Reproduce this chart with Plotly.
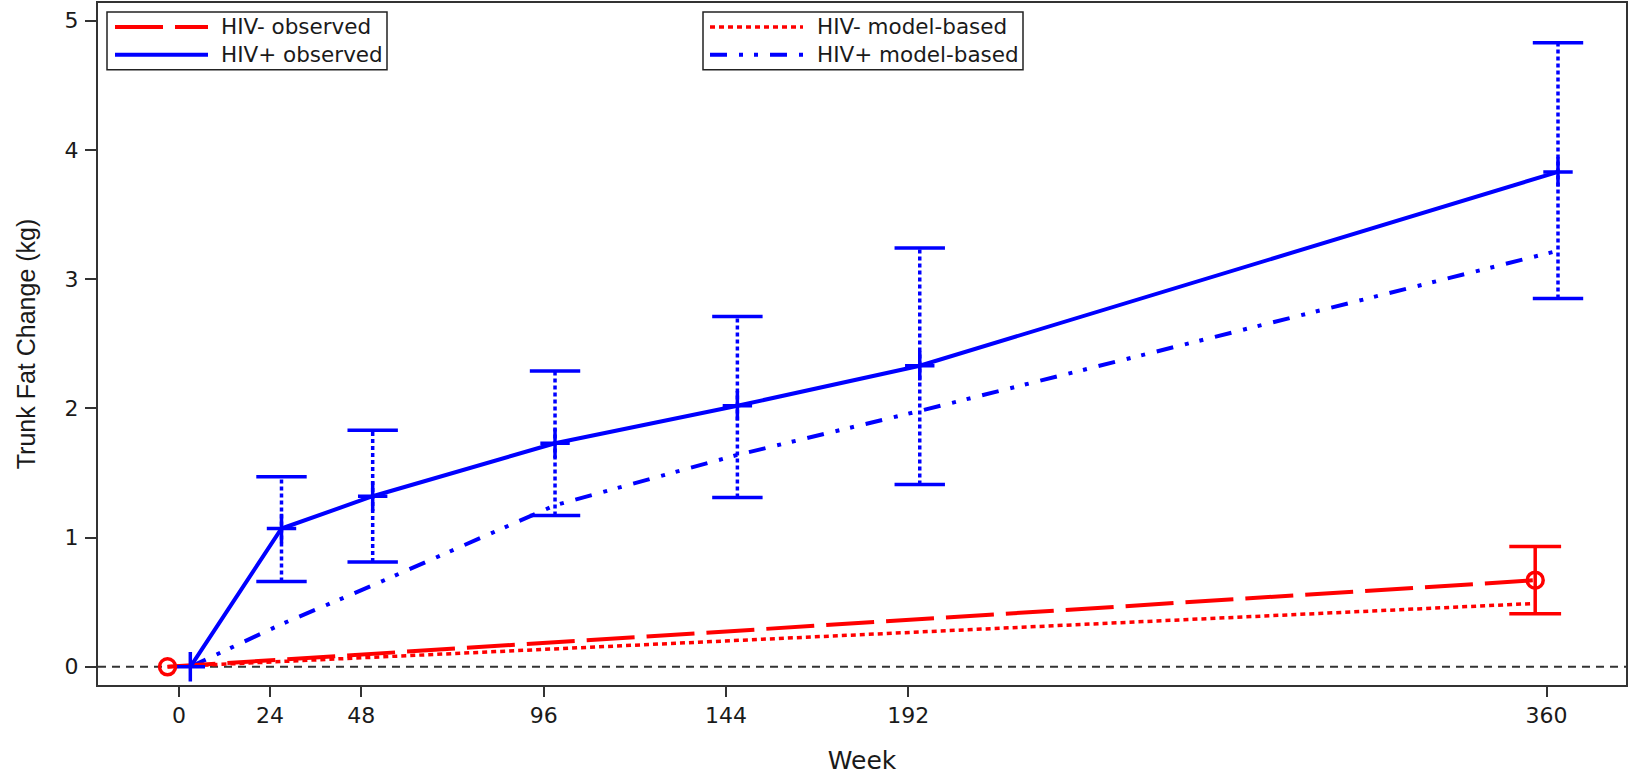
import plotly.graph_objects as go

# ---------------- data ----------------
weeks = [0, 24, 48, 96, 144, 192, 360]
hivpos_obs = [0, 1.07, 1.32, 1.73, 2.02, 2.33, 3.83]
hivpos_lo = [None, 0.66, 0.81, 1.17, 1.31, 1.41, 2.85]
hivpos_hi = [None, 1.47, 1.83, 2.29, 2.71, 3.24, 4.83]
hivpos_model = [0, 0.33, 0.63, 1.25, 1.64, 1.98, 3.22]

neg_weeks = [0, 360]
hivneg_obs = [0, 0.67]
hivneg_lo = [None, 0.41]
hivneg_hi = [None, 0.93]
hivneg_model = [0, 0.49]

x_ticks = [0, 24, 48, 96, 144, 192, 360]
y_ticks = [0, 1, 2, 3, 4, 5]

POS_SHIFT = 3     # horizontal jitter of HIV+ series (weeks)
NEG_SHIFT = -3    # horizontal jitter of HIV- series (weeks)

BLUE = "#0000ff"
RED = "#ff0000"
AX = "#333333"
TXT = "#1a1a1a"
FONT = "DejaVu Sans"
DASHDOT = "17px,12px,4px,11px,4px,12px"

xp = [w + POS_SHIFT for w in weeks]
xn = [w + NEG_SHIFT for w in neg_weeks]


def err_segments(xs, lo, hi):
    sx, sy = [], []
    for x, l, h in zip(xs, lo, hi):
        if l is None:
            continue
        sx += [x, x, None]
        sy += [l, h, None]
    return sx, sy


def cap_points(xs, lo, hi):
    cx, cy = [], []
    for x, l, h in zip(xs, lo, hi):
        if l is None:
            continue
        cx += [x, x]
        cy += [l, h]
    return cx, cy


fig = go.Figure()

# model-based lines
fig.add_trace(go.Scatter(x=xn, y=hivneg_model, mode="lines", name="HIV- model-based",
                         line=dict(color=RED, width=3.5, dash="5px,4px"), showlegend=False))
fig.add_trace(go.Scatter(x=xp, y=hivpos_model, mode="lines", name="HIV+ model-based",
                         line=dict(color=BLUE, width=4, dash=DASHDOT), showlegend=False))

# observed lines
fig.add_trace(go.Scatter(x=xn, y=hivneg_obs, mode="lines", name="HIV- observed",
                         line=dict(color=RED, width=4, dash="48px,12px"), showlegend=False))
fig.add_trace(go.Scatter(x=xp, y=hivpos_obs, mode="lines", name="HIV+ observed",
                         line=dict(color=BLUE, width=4), showlegend=False))

# error bars HIV+ (dotted)
sx, sy = err_segments(xp, hivpos_lo, hivpos_hi)
fig.add_trace(go.Scatter(x=sx, y=sy, mode="lines", line=dict(color=BLUE, width=3.5, dash="4px,3px"),
                         showlegend=False, hoverinfo="skip"))
cx, cy = cap_points(xp, hivpos_lo, hivpos_hi)
fig.add_trace(go.Scatter(x=cx, y=cy, mode="markers", showlegend=False, hoverinfo="skip",
                         marker=dict(symbol="line-ew", size=36, color=BLUE,
                                     line=dict(color=BLUE, width=3.5))))

# error bars HIV- (solid)
sx, sy = err_segments(xn, hivneg_lo, hivneg_hi)
fig.add_trace(go.Scatter(x=sx, y=sy, mode="lines", line=dict(color=RED, width=3.5),
                         showlegend=False, hoverinfo="skip"))
cx, cy = cap_points(xn, hivneg_lo, hivneg_hi)
fig.add_trace(go.Scatter(x=cx, y=cy, mode="markers", showlegend=False, hoverinfo="skip",
                         marker=dict(symbol="line-ew", size=37, color=RED,
                                     line=dict(color=RED, width=3.5))))

# markers
fig.add_trace(go.Scatter(x=xp, y=hivpos_obs, mode="markers", showlegend=False,
                         marker=dict(symbol="cross-thin", size=21, color=BLUE,
                                     line=dict(color=BLUE, width=3.5))))
fig.add_trace(go.Scatter(x=xn, y=hivneg_obs, mode="markers", showlegend=False,
                         marker=dict(symbol="circle-open", size=16, color=RED,
                                     line=dict(color=RED, width=3.5))))

# ---------------- layout ----------------
W, H = 1630, 776
PX0, PX1, PY0, PY1 = 98, 1626, 1, 685


def px(x):
    return (x - PX0) / (PX1 - PX0)


def py(y):
    return (PY1 - y) / (PY1 - PY0)


shapes = [
    dict(type="line", xref="paper", yref="y", x0=0, x1=1, y0=0, y1=0,
         line=dict(color=AX, width=2, dash="8px,6px"), layer="below"),
]
annotations = []

legend_boxes = [
    (107, 387, 10, 68, [("HIV- observed", RED, "48px,12px", 4),
                        ("HIV+ observed", BLUE, "solid", 4)], 115, 208, 219),
    (703, 1023, 10, 68, [("HIV- model-based", RED, "5px,4px", 3.5),
                         ("HIV+ model-based", BLUE, DASHDOT, 4)], 710, 803, 815),
]
for (bx0, bx1, by0, by1, items, lx0, lx1, tx) in legend_boxes:
    shapes.append(dict(type="rect", xref="paper", yref="paper", x0=px(bx0), x1=px(bx1),
                       y0=py(by1), y1=py(by0), line=dict(color="#222", width=1.5),
                       fillcolor="white"))
    for i, (label, col, dash, wdt) in enumerate(items):
        yy = 25 + 28 * i
        shapes.append(dict(type="line", xref="paper", yref="paper", x0=px(lx0), x1=px(lx1),
                           y0=py(yy), y1=py(yy), line=dict(color=col, width=wdt, dash=dash)))
        annotations.append(dict(text=label, xref="paper", yref="paper", x=px(tx), y=py(yy),
                                xanchor="left", yanchor="middle", showarrow=False,
                                font=dict(family=FONT, size=21.5, color=TXT)))

fig.update_layout(
    width=W, height=H,
    margin=dict(l=PX0, r=W - PX1, t=PY0, b=H - PY1),
    paper_bgcolor="white", plot_bgcolor="white",
    shapes=shapes, annotations=annotations, showlegend=False,
    font=dict(family=FONT, color=TXT),
)
fig.update_xaxes(
    range=[-21.3, 380.9], tickvals=x_ticks, ticktext=[str(t) for t in x_ticks],
    showgrid=False, zeroline=False, showline=True, mirror=True, linecolor=AX, linewidth=2,
    ticks="outside", ticklen=10, tickwidth=2, tickcolor=AX,
    tickfont=dict(family=FONT, size=22, color=TXT),
    title=dict(text="Week", font=dict(family=FONT, size=25, color=TXT), standoff=24),
)
fig.update_yaxes(
    range=[-0.141, 5.137], tickvals=y_ticks, ticktext=[str(t) for t in y_ticks],
    showgrid=False, zeroline=False, showline=True, mirror=True, linecolor=AX, linewidth=2,
    ticks="outside", ticklen=11, tickwidth=2, tickcolor=AX, ticklabelstandoff=2,
    tickfont=dict(family=FONT, size=22, color=TXT),
    title=dict(text="Trunk Fat Change (kg)", font=dict(family="Liberation Sans", size=25, color=TXT),
               standoff=22),
)

fig.write_html("out.html")
